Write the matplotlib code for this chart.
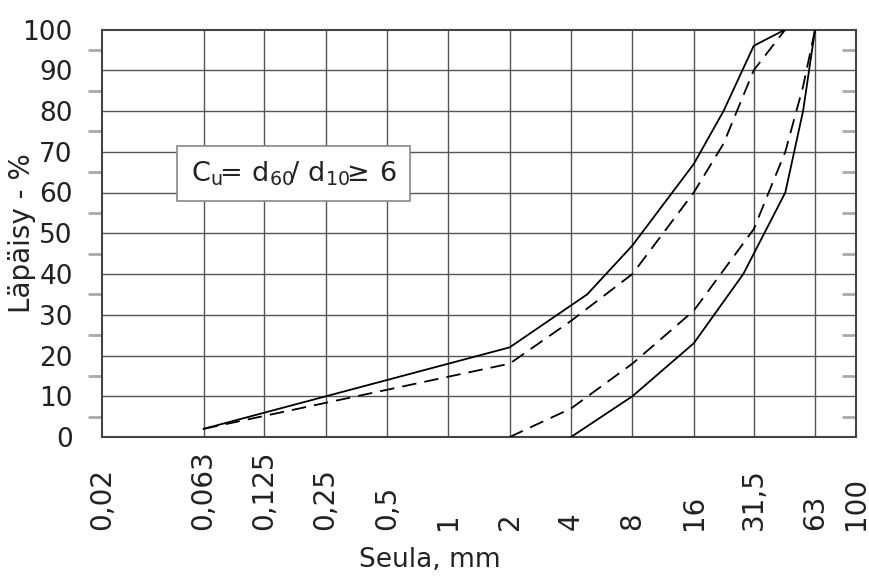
import matplotlib
matplotlib.use("Agg")
import matplotlib.pyplot as plt

# sieve sizes (mm) and labels
sieves = [0.02, 0.063, 0.125, 0.25, 0.5, 1, 2, 4, 8, 16, 31.5, 63, 100]
sieve_labels = ["0,02", "0,063", "0,125", "0,25", "0,5", "1", "2", "4", "8",
                "16", "31,5", "63", "100"]

# fine limit, solid
fine_x = [0.063, 2, 4.8, 8, 16, 22.4, 31.5, 45]
fine_y = [2, 22, 35, 47, 67, 80, 96, 100]

# fine limit, dashed
fine_d_x = [0.063, 2, 4, 8, 16, 22.4, 31.5, 45]
fine_d_y = [2, 18, 28.5, 40, 60, 72, 90, 100]

# coarse limit, dashed
coarse_d_x = [2, 4, 8, 16, 31.5, 45, 55, 63]
coarse_d_y = [0, 7, 18, 31, 51, 70, 86, 100]

# coarse limit, solid
coarse_x = [4, 8, 16, 28, 45, 55, 63]
coarse_y = [0, 10, 23, 40, 60, 80, 100]

yticks = list(range(0, 101, 10))
yminor = list(range(5, 100, 10))

fig = plt.figure(figsize=(8.7, 5.76), dpi=100)
ax = fig.add_axes([102 / 870, (576 - 437) / 576, 754 / 870, 407.5 / 576])

ax.set_xscale("log")
ax.set_xlim(0.02, 100)
ax.set_ylim(0, 100)

grid_kw = dict(color="#555555", lw=1.0, zorder=1)
for s in sieves[1:-1]:
    ax.axvline(s, **grid_kw)
for v in yticks[1:-1]:
    ax.axhline(v, **grid_kw)

dash = (0, (8, 4.5))
ax.plot(fine_x, fine_y, color="black", lw=1.3, zorder=3)
ax.plot(fine_d_x, fine_d_y, color="black", lw=1.3, ls=dash, zorder=3)
ax.plot(coarse_d_x, coarse_d_y, color="black", lw=1.3, ls=dash, zorder=3)
ax.plot(coarse_x, coarse_y, color="black", lw=1.3, zorder=3)

# x tick labels: rotated, aligned at their start
ax.set_xticks([])
ax.xaxis.set_minor_locator(matplotlib.ticker.NullLocator())
trans = matplotlib.transforms.blended_transform_factory(ax.transData, ax.transAxes)
for s, lab in zip(sieves, sieve_labels):
    ax.text(s, -0.228, lab, transform=trans, rotation=90, ha="center",
            va="bottom", fontsize=20, color="#222222")

ax.set_yticks(yticks)
ax.set_yticklabels([str(v) for v in yticks], fontsize=19, color="#222222")
ax.set_yticks(yminor, minor=True)
ax.tick_params(axis="y", which="major", length=0, pad=21)
ax.tick_params(axis="y", which="minor", length=10, width=2, color="#aaaaaa",
               direction="out")

sec = ax.secondary_yaxis("right")
sec.set_yticks(yminor)
sec.set_yticklabels([])
sec.tick_params(length=10, width=2, color="#aaaaaa", direction="in")
sec.spines["right"].set_visible(False)

for sp in ax.spines.values():
    sp.set_color("#444444")
    sp.set_linewidth(1.5)

ax.set_ylabel("Läpäisy - %", fontsize=20, color="#222222")
ax.yaxis.set_label_coords((36 - 102) / 754, 0.5)
ax.set_xlabel("Seula, mm", fontsize=19, color="#222222")
ax.xaxis.set_label_coords((430 - 102) / 754, -0.27)

ax.text(0.118, 0.647, r"$\mathregular{C_u\!\!=\!\ d_{60}\!/\ d_{10}\!\!\geq\!\ 6}$",
        transform=ax.transAxes, fontsize=19.5, ha="left", va="center",
        color="#222222", zorder=4,
        bbox=dict(boxstyle="square,pad=0.5", facecolor="white",
                  edgecolor="#888888", lw=1.2))

fig.savefig("out.png", dpi=100)
